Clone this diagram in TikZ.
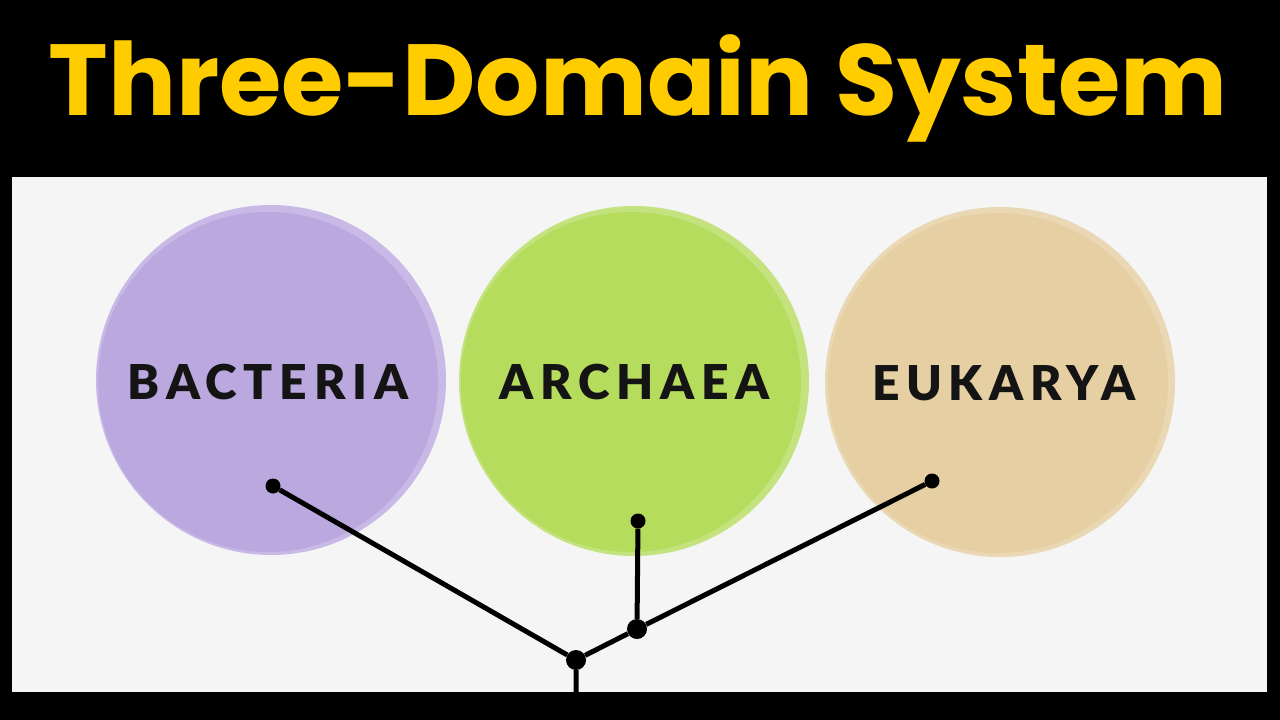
\documentclass[tikz,border=0pt]{standalone}
\usepackage{fontspec}
\setmainfont{DejaVu Sans}
\newfontfamily\titlefont{Poppins Bold}
\newfontfamily\labelfont[LetterSpace=14]{Lato Black}
\usetikzlibrary{positioning}
\definecolor{titleyellow}{HTML}{FFCC00}
\definecolor{panelgray}{HTML}{F5F5F5}
\definecolor{bactlilac}{HTML}{BBA8DF}
\definecolor{bactring}{HTML}{C8B9E7}
\definecolor{archgreen}{HTML}{B6DC5E}
\definecolor{archring}{HTML}{C4E37E}
\definecolor{eukatan}{HTML}{E5CFA3}
\definecolor{eukaring}{HTML}{EAD7B3}

\begin{document}
\begin{tikzpicture}[x=1pt,y=-1pt,
  domainbox/.style={circle,minimum size=340pt,inner sep=0pt,text=black!92,font=\labelfont\fontsize{48}{48}\selectfont},
  dot/.style={circle,fill=black,minimum size=15pt,inner sep=0pt},
  joint/.style={circle,fill=black,minimum size=20pt,inner sep=0pt},
  branch/.style={line width=5pt,black}]
  \fill[black] (0,0) rectangle (1280,720);
  \useasboundingbox (0,0) rectangle (1280,720);
  \fill[panelgray] (12,177) rectangle (1267,692);
  \node[font=\titlefont\fontsize{101}{110}\selectfont,text=titleyellow,anchor=base] (title) at (638,115) {Three-Domain System};
  % soft outer rings
  \foreach \x/\y/\c in {271/380/bactring,634/381/archring,1000/382/eukaring}
    \fill[\c] (\x,\y) circle (175);
  \node[domainbox,fill=bactlilac] (bacteria) at (268,382) {BACTERIA};
  \node[domainbox,fill=archgreen] (archaea) at (631,382) {\hspace*{7pt}ARCHAEA};
  \node[domainbox,fill=eukatan] (eukarya) at (998,383) {\hspace*{12pt}EUKARYA};
  % tree
  \node[dot] (b) at (273,486) {};
  \node[dot] (a) at (638,521) {};
  \node[dot] (e) at (932,481) {};
  \node[joint] (j2) at (637,629) {};
  \node[joint] (j1) at (576,660) {};
  \coordinate (root) at (576,692);
  \draw[branch] (b) -- (j1) -- (j2) -- (e) (a) -- (j2) (j1) -- (root);
\end{tikzpicture}
\end{document}
